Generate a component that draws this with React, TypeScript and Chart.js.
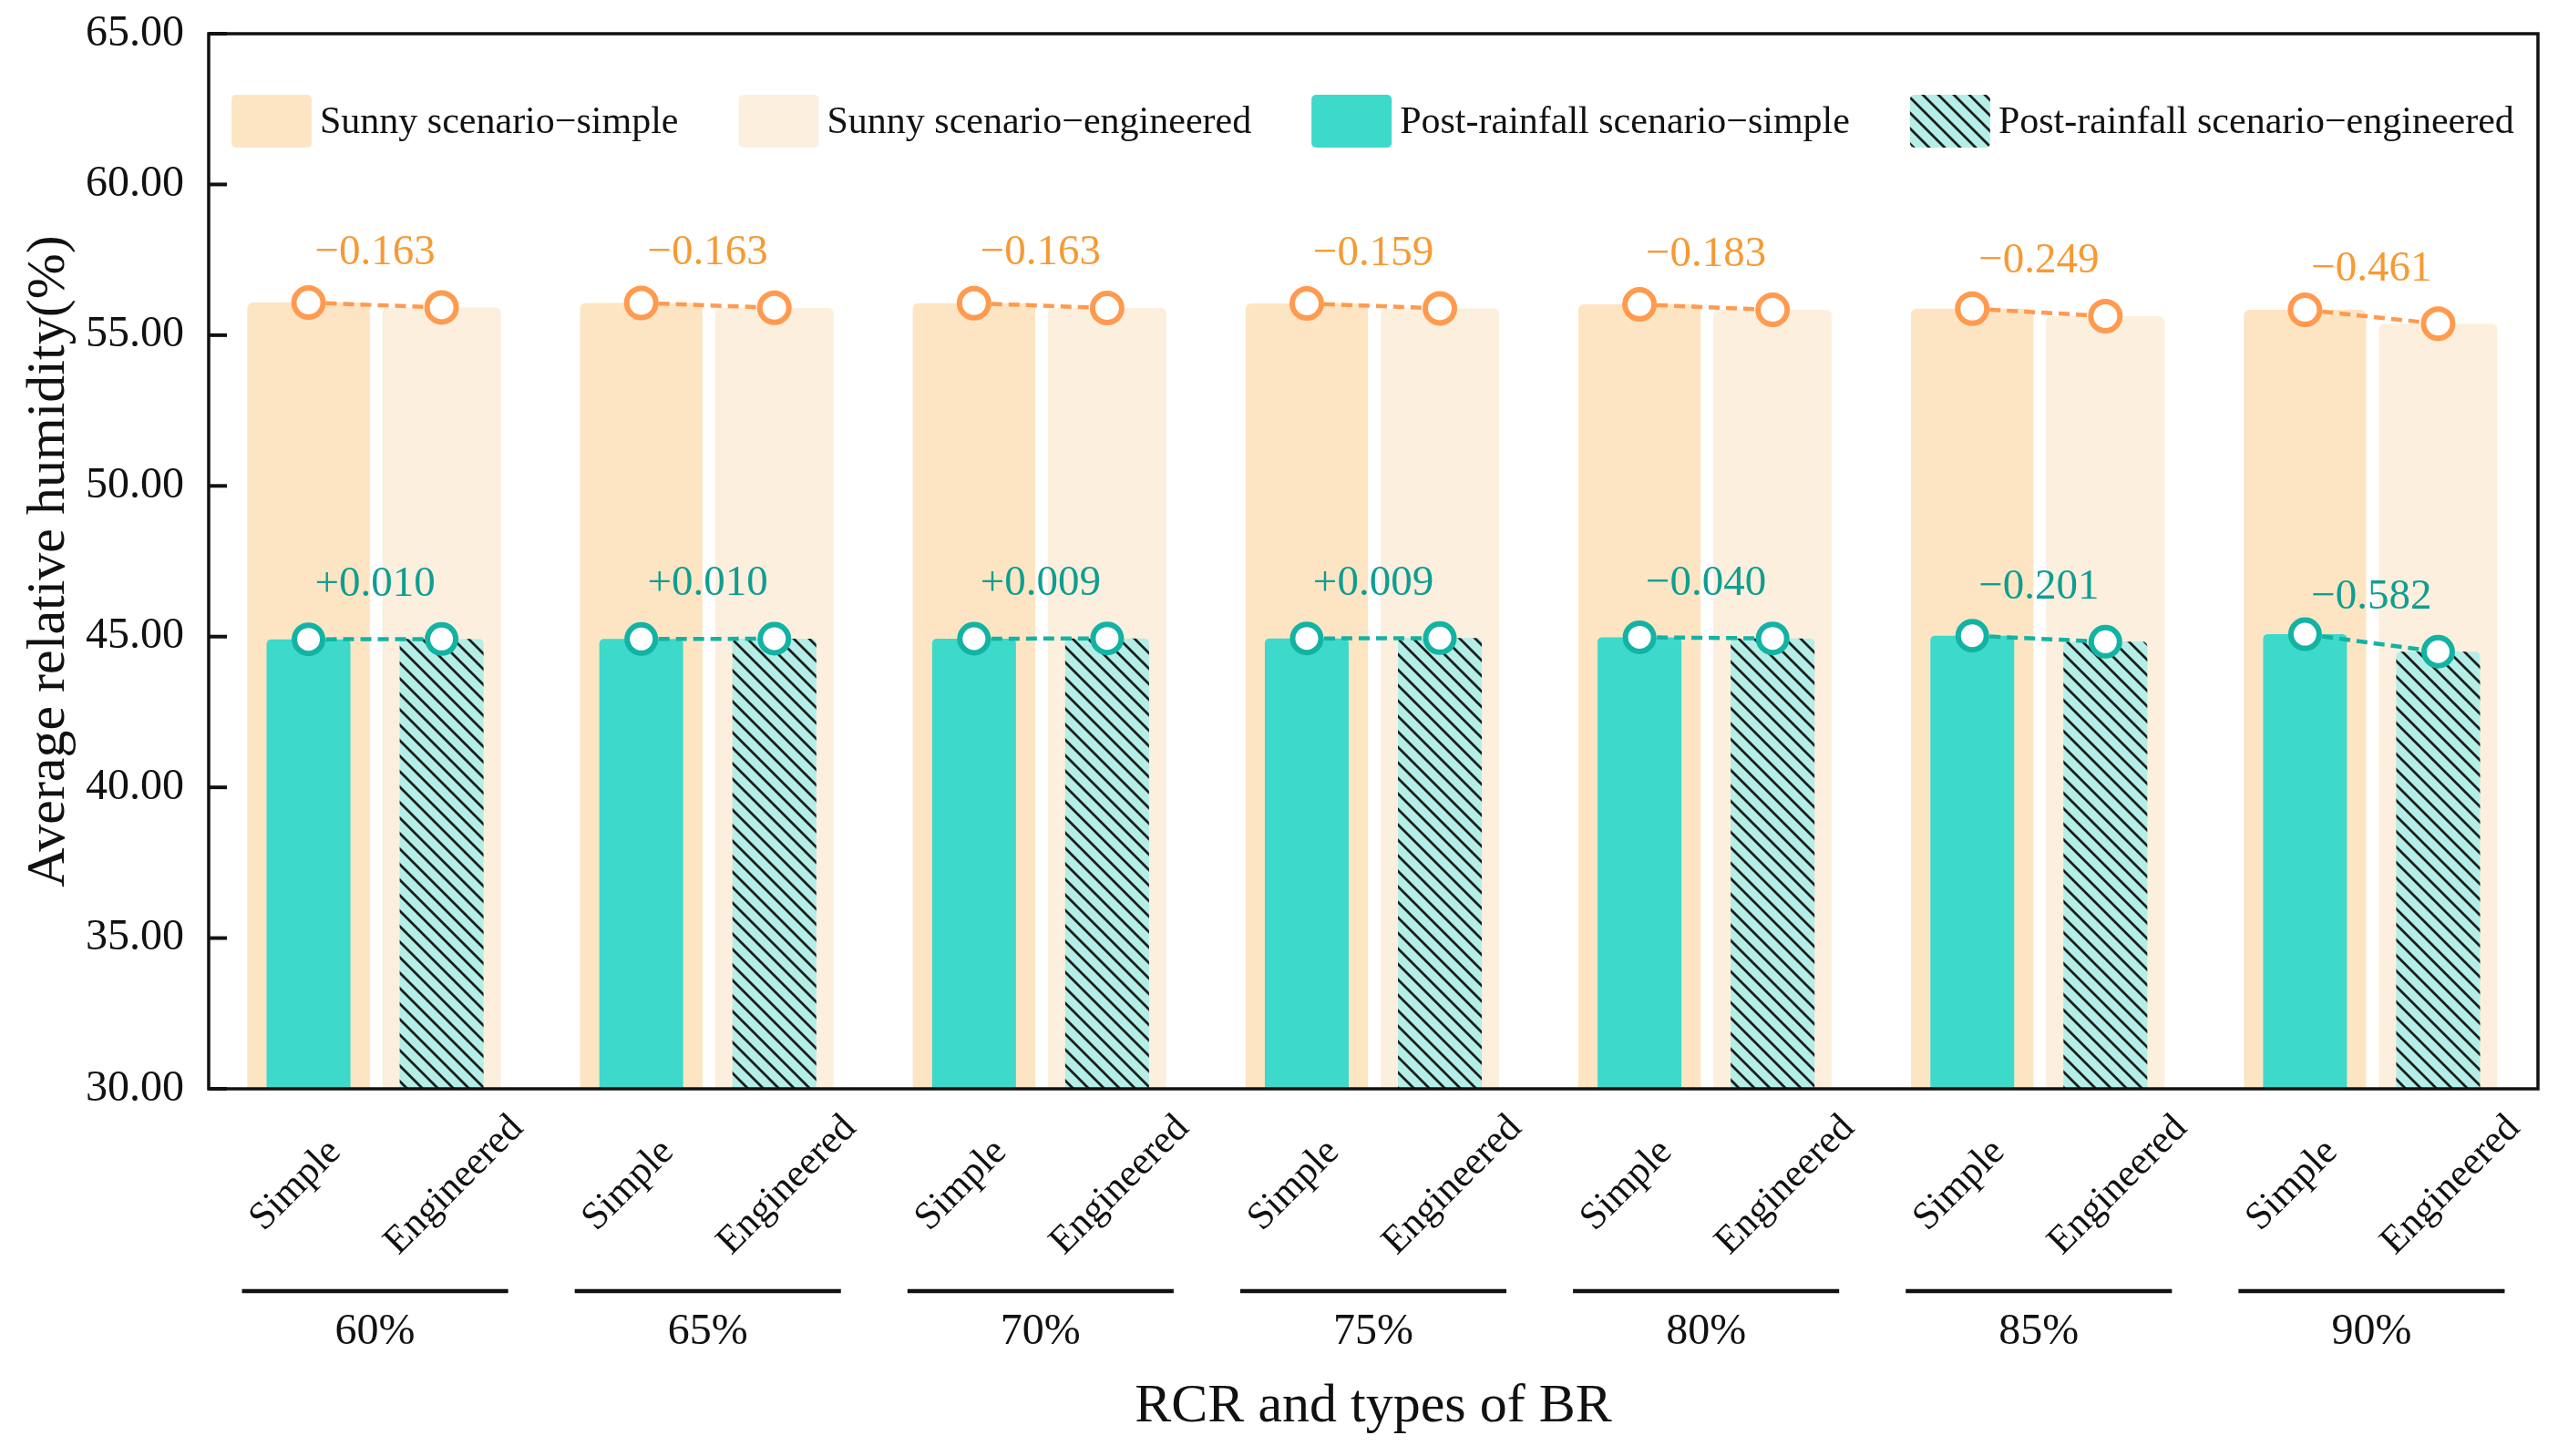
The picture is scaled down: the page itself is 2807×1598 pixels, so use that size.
import React, { useEffect, useRef } from 'react';
import { Chart, registerables } from 'chart.js';

Chart.register(...registerables);

const WIDTH = 2807;
const HEIGHT = 1598;
const FONT = '"Liberation Serif", "Times New Roman", Times, serif';

// ---------------- data ----------------
const groupLabels = ['60%', '65%', '70%', '75%', '80%', '85%', '90%'];
const typeLabels = ['Simple', 'Engineered'];
const sunnySimple = [56.08, 56.07, 56.06, 56.05, 56.02, 55.88, 55.84];
const sunnyEngineered = [55.92, 55.91, 55.9, 55.89, 55.84, 55.63, 55.38];
const rainSimple = [44.91, 44.92, 44.93, 44.94, 44.98, 45.03, 45.08];
const rainEngineered = [44.92, 44.93, 44.94, 44.95, 44.94, 44.83, 44.5];
const sunnyChange = [-0.163, -0.163, -0.163, -0.159, -0.183, -0.249, -0.461];
const rainChange = [0.01, 0.01, 0.009, 0.009, -0.04, -0.201, -0.582];
const seriesLabels = [
  'Sunny scenario\u2212simple',
  'Sunny scenario\u2212engineered',
  'Post-rainfall scenario\u2212simple',
  'Post-rainfall scenario\u2212engineered',
];
const yMin = 30;
const yMax = 65;
const yStep = 5;
const xTitle = 'RCR and types of BR';
const yTitle = 'Average relative humidity(%)';

// ---------------- style ----------------
const SUNNY_S = '#FDE5C4';
const SUNNY_E = '#FDEFDD';
const TEAL = '#3DD9CA';
const TEAL_LIGHT = '#B3EEE7';
const ORANGE = '#FF9A4F';
const ORANGE_TEXT = '#F79A33';
const TEAL_LINE = '#12B3A3';
const TEAL_TEXT = '#0E9E91';
const INK = '#111111';
const SLOT = 0.2; // offset of Simple / Engineered within a group
const TYPE_LABEL_SHIFT = [-14, 14];

const PLOT_TOP = 37;
const PLOT_BOTTOM = 1195;
const PLOT_LEFT = 229;
const PLOT_RIGHT = 2793;

const slotX = (i: number, t: number) => i + (t === 0 ? -SLOT : SLOT);
const barData = (vals: number[], t: number) => vals.map((v, i) => ({ x: slotX(i, t), y: v }));
const pairData = (a: number[], b: number[]) =>
  a.flatMap((v, i) => [
    { x: slotX(i, 0), y: v },
    { x: slotX(i, 1), y: b[i] },
  ]);
const formatChange = (v: number) => (v >= 0 ? '+' : '\u2212') + Math.abs(v).toFixed(3);

function makeHatch(): CanvasPattern | string {
  const s = 17;
  const c = document.createElement('canvas');
  c.width = s;
  c.height = s;
  const g = c.getContext('2d');
  if (!g) return TEAL_LIGHT;
  g.fillStyle = TEAL_LIGHT;
  g.fillRect(0, 0, s, s);
  g.strokeStyle = '#1c1c1c';
  g.lineWidth = 2.8;
  g.beginPath();
  for (let k = -1; k <= 1; k++) {
    g.moveTo(k * s - 3, -3);
    g.lineTo(k * s + s + 3, s + 3);
  }
  g.stroke();
  const p = g.createPattern(c, 'repeat');
  return p || TEAL_LIGHT;
}

const decorPlugin = {
  id: 'decor',
  afterDatasetsDraw(chart: any) {
    const { ctx } = chart;
    ctx.save();
    ctx.textAlign = 'center';
    ctx.textBaseline = 'middle';
    ctx.font = `47px ${FONT}`;
    const drawChanges = (dsIndex: number, values: number[], color: string) => {
      const pts = chart.getDatasetMeta(dsIndex).data;
      values.forEach((v, i) => {
        const p0 = pts[2 * i];
        const p1 = pts[2 * i + 1];
        if (!p0 || !p1) return;
        ctx.fillStyle = color;
        ctx.fillText(formatChange(v), (p0.x + p1.x) / 2, p1.y - 60);
      });
    };
    drawChanges(4, sunnyChange, ORANGE_TEXT);
    drawChanges(5, rainChange, TEAL_TEXT);
    ctx.restore();
  },
  afterDraw(chart: any) {
    const { ctx, chartArea: a, scales } = chart;
    const xs = scales.x;
    const ys = scales.y;
    ctx.save();

    // inner y ticks
    ctx.strokeStyle = INK;
    ctx.lineWidth = 4;
    ys.ticks.forEach((t: any) => {
      const py = ys.getPixelForValue(t.value);
      ctx.beginPath();
      ctx.moveTo(a.left, py);
      ctx.lineTo(a.left + 20, py);
      ctx.stroke();
    });

    // frame
    ctx.lineWidth = 3.5;
    ctx.strokeRect(a.left, a.top, a.right - a.left, a.bottom - a.top);

    // legend inside plot
    const ds = chart.data.datasets;
    ctx.font = `42px ${FONT}`;
    ctx.textAlign = 'left';
    ctx.textBaseline = 'middle';
    let lx = a.left + 25;
    const ly = 133;
    for (let k = 0; k < 4; k++) {
      ctx.fillStyle = ds[k].backgroundColor;
      ctx.beginPath();
      if (ctx.roundRect) ctx.roundRect(lx, ly - 29, 88, 58, 5);
      else ctx.rect(lx, ly - 29, 88, 58);
      ctx.fill();
      ctx.fillStyle = INK;
      const label = ds[k].label;
      ctx.fillText(label, lx + 97, ly + 2);
      lx += 97 + ctx.measureText(label).width + 66;
    }

    // rotated Simple / Engineered labels
    ctx.font = `43px ${FONT}`;
    ctx.textAlign = 'center';
    ctx.textBaseline = 'middle';
    ctx.fillStyle = INK;
    groupLabels.forEach((_, i) => {
      typeLabels.forEach((lab, t) => {
        const px = xs.getPixelForValue(slotX(i, t)) + TYPE_LABEL_SHIFT[t];
        ctx.save();
        ctx.translate(px, a.bottom + 106);
        ctx.rotate(-Math.PI / 4);
        ctx.fillText(lab, 0, 0);
        ctx.restore();
      });
    });

    // group lines and group labels
    ctx.lineWidth = 4.5;
    ctx.strokeStyle = INK;
    ctx.font = `48px ${FONT}`;
    groupLabels.forEach((lab, i) => {
      const x0 = xs.getPixelForValue(i - 0.4);
      const x1 = xs.getPixelForValue(i + 0.4);
      ctx.beginPath();
      ctx.moveTo(x0, a.bottom + 222);
      ctx.lineTo(x1, a.bottom + 222);
      ctx.stroke();
      ctx.fillText(lab, xs.getPixelForValue(i), a.bottom + 267);
    });

    ctx.restore();
  },
};

export default function App() {
  const ref = useRef<HTMLCanvasElement>(null);

  useEffect(() => {
    document.body.style.margin = '0';
    const canvas = ref.current;
    if (!canvas) return;
    Chart.defaults.font.family = FONT;
    Chart.defaults.color = INK;
    const hatch = makeHatch();
    const slotPositions = groupLabels.flatMap((_, i) => [slotX(i, 0), slotX(i, 1)]);

    const gapSegment = (color: string) => ({
      borderColor: (c: any) => (c.p0DataIndex % 2 === 1 ? 'rgba(0,0,0,0)' : color),
    });

    const chart = new Chart(canvas, {
      type: 'bar',
      data: {
        datasets: [
          {
            type: 'bar',
            label: seriesLabels[0],
            data: barData(sunnySimple, 0),
            backgroundColor: SUNNY_S,
            grouped: false,
            categoryPercentage: 1,
            barPercentage: 0.92,
            borderRadius: 6,
            order: 6,
          },
          {
            type: 'bar',
            label: seriesLabels[1],
            data: barData(sunnyEngineered, 1),
            backgroundColor: SUNNY_E,
            grouped: false,
            categoryPercentage: 1,
            barPercentage: 0.89,
            borderRadius: 6,
            order: 5,
          },
          {
            type: 'bar',
            label: seriesLabels[2],
            data: barData(rainSimple, 0),
            backgroundColor: TEAL,
            grouped: false,
            categoryPercentage: 1,
            barPercentage: 0.63,
            borderRadius: 5,
            order: 4,
          },
          {
            type: 'bar',
            label: seriesLabels[3],
            data: barData(rainEngineered, 1),
            backgroundColor: hatch as any,
            grouped: false,
            categoryPercentage: 1,
            barPercentage: 0.63,
            borderRadius: 5,
            order: 3,
          },
          {
            type: 'line',
            label: 'Sunny change',
            data: pairData(sunnySimple, sunnyEngineered),
            borderColor: ORANGE,
            borderWidth: 4.5,
            borderDash: [12, 7],
            pointRadius: 16,
            pointBorderWidth: 6,
            pointBackgroundColor: '#ffffff',
            pointBorderColor: ORANGE,
            segment: gapSegment(ORANGE),
            order: 2,
          } as any,
          {
            type: 'line',
            label: 'Post-rainfall change',
            data: pairData(rainSimple, rainEngineered),
            borderColor: TEAL_LINE,
            borderWidth: 4.5,
            borderDash: [12, 7],
            pointRadius: 15.5,
            pointBorderWidth: 6,
            pointBackgroundColor: '#ffffff',
            pointBorderColor: TEAL_LINE,
            segment: gapSegment(TEAL_LINE),
            order: 1,
          } as any,
        ],
      },
      options: {
        responsive: false,
        animation: false,
        devicePixelRatio: 1,
        events: [],
        layout: { padding: { left: 0, right: WIDTH - PLOT_RIGHT, top: PLOT_TOP, bottom: 0 } },
        plugins: {
          legend: { display: false },
          tooltip: { enabled: false },
        },
        scales: {
          x: {
            type: 'linear',
            min: -0.5,
            max: 6.5,
            offset: false,
            grid: { display: false, drawTicks: false },
            border: { display: false },
            ticks: { display: false },
            afterBuildTicks: (s: any) => {
              s.ticks = slotPositions.map((v) => ({ value: v }));
            },
            afterFit: (s: any) => {
              s.height = HEIGHT - PLOT_BOTTOM;
              s.paddingLeft = 0;
              s.paddingRight = 0;
            },
            title: {
              display: true,
              text: xTitle,
              color: INK,
              font: { size: 60, family: FONT },
              padding: { top: 0, bottom: 18 },
            },
          },
          y: {
            min: yMin,
            max: yMax,
            stacked: false,
            grid: { display: false, drawTicks: false },
            border: { display: false },
            ticks: {
              stepSize: yStep,
              color: INK,
              font: { size: 48, family: FONT },
              padding: 27,
              callback: (v: any) => Number(v).toFixed(2),
            },
            afterFit: (s: any) => {
              s.width = PLOT_LEFT;
              s.paddingTop = 0;
              s.paddingBottom = 0;
            },
            title: {
              display: true,
              text: yTitle,
              color: INK,
              font: { size: 60, family: FONT },
              padding: { top: 18, bottom: 0 },
            },
          },
        },
      } as any,
      plugins: [decorPlugin],
    });

    return () => chart.destroy();
  }, []);

  return (
    <div style={{ width: WIDTH, height: HEIGHT, position: 'relative', overflow: 'hidden' }}>
      <canvas
        ref={ref}
        width={WIDTH}
        height={HEIGHT}
        style={{ display: 'block', width: WIDTH, height: HEIGHT }}
      />
    </div>
  );
}
